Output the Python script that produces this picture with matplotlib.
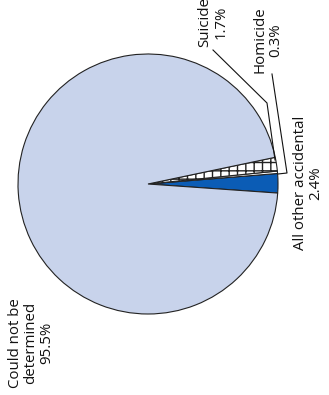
import matplotlib.pyplot as plt

labels = ["All other accidental\n2.4%", "Homicide\n0.3%", "Suicide\n1.7%",
          "Could not be\ndetermined\n95.5%"]
values = [2.4, 0.3, 1.7, 95.5]
colors = ["#0b5cb5", "#ffffff", "#ffffff", "#c8d3eb"]
hatches = [None, None, "++", None]

W, H = 329, 395
cx, cy, R = 148, 184, 130

fig = plt.figure(figsize=(W / 100, H / 100), dpi=100)
ax = fig.add_axes([(cx - R) / W, (H - cy - R) / H, 2 * R / W, 2 * R / H])

wedges, _ = ax.pie(values, colors=colors, startangle=-4.0, counterclock=True,
                   wedgeprops=dict(edgecolor="#222222", linewidth=0.8))
for w, h in zip(wedges, hatches):
    if h:
        w.set_hatch(h)

ax.set_xlim(-1, 1)
ax.set_ylim(-1, 1)
ax.axis("off")


def d(px, py):
    # pixel -> data coords
    return (px - cx) / R, (cy - py) / R


font = dict(family="Open Sans", fontsize=10.8, rotation=90, ha="center",
            va="center", multialignment="center", color="#111111",
            linespacing=1.05)

# label positions (pixel centres)
pos = [(308, 183), (268, 40), (213, 22), (31, 343)]
for lab, (px, py) in zip(labels, pos):
    x, y = d(px, py)
    ax.text(x, y, lab, clip_on=False, **font)

# leader lines
leaders = [
    [(213, 50), (267, 103), (275, 160)],
    [(272, 74), (287, 173), (278, 174)],
]
for pts in leaders:
    xs, ys = zip(*[d(*p) for p in pts])
    ax.plot(xs, ys, color="#111111", linewidth=0.8, clip_on=False)

fig.savefig("out.png", dpi=100)
